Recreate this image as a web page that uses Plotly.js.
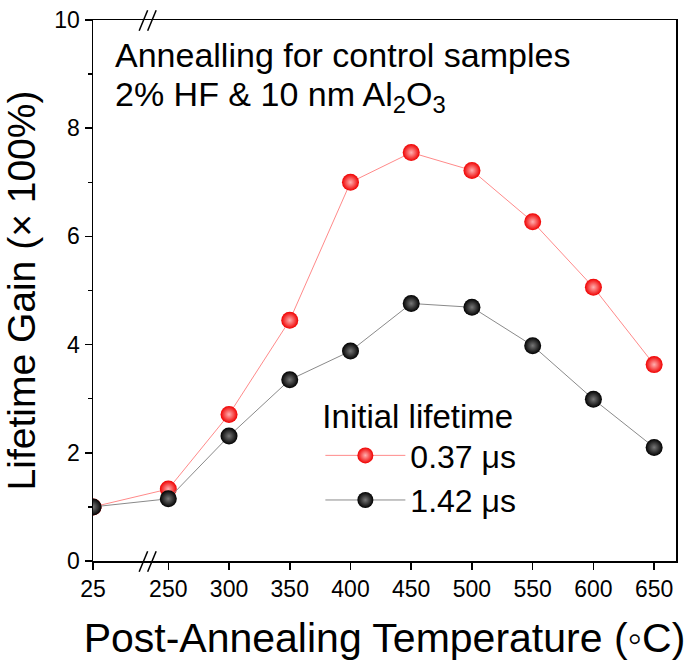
<!DOCTYPE html>
<html>
<head>
<meta charset="utf-8">
<script src="https://cdn.plot.ly/plotly-3.0.1.min.js"></script>
<style>html,body{margin:0;padding:0;background:#fff;}#chart{width:686px;height:669px;}</style>
</head>
<body>
<div id="chart"></div>
<script>
// Data
const temperatures = [25, 250, 300, 350, 400, 450, 500, 550, 600, 650];
const tickLabels = ['25', '250', '300', '350', '400', '450', '500', '550', '600', '650'];
const gain037 = [1.0, 1.33, 2.71, 4.45, 7.0, 7.55, 7.22, 6.27, 5.06, 3.63];
const gain142 = [1.0, 1.15, 2.31, 3.35, 3.88, 4.76, 4.69, 3.98, 2.99, 2.1];
const seriesNames = ['0.37 \u03bcs', '1.42 \u03bcs'];

// Broken axis: 25 °C is drawn just left of the break
const BREAK_POS = 188;
const axisPos = t => (t >= 250 ? t : BREAK_POS);
const xPos = temperatures.map(axisPos);

const FONT = 'Liberation Sans, Arial, sans-serif';

const traces = [
  {
    x: xPos, y: gain037, name: seriesNames[0], type: 'scatter', mode: 'lines+markers',
    line: {color: '#ff8a8a', width: 1},
    marker: {size: 17, color: '#f00000', gradient: {type: 'radial', color: '#ffb0b0'}, line: {width: 0}}
  },
  {
    x: xPos, y: gain142, name: seriesNames[1], type: 'scatter', mode: 'lines+markers',
    line: {color: '#8a8a8a', width: 1},
    marker: {size: 17, color: '#000000', gradient: {type: 'radial', color: '#777777'}, line: {width: 0}}
  }
];

function slash(x0, y0) {
  return {type: 'line', xref: 'x', yref: 'paper', x0: x0, x1: x0 + 7, y0: y0 - 0.02, y1: y0 + 0.018,
          line: {color: '#000', width: 1.5}, layer: 'above'};
}

const layout = {
  width: 686, height: 669,
  margin: {l: 93, r: 10, t: 20, b: 108},
  paper_bgcolor: '#fff', plot_bgcolor: '#fff',
  font: {family: FONT, color: '#000'},
  showlegend: true,
  legend: {
    x: 0.39, y: 0.325, xanchor: 'left', yanchor: 'top',
    bgcolor: 'rgba(0,0,0,0)',
    font: {size: 32, family: FONT},
    title: {text: 'Initial lifetime', font: {size: 33, family: FONT}},
    itemwidth: 80, tracegroupgap: 0
  },
  xaxis: {
    range: [BREAK_POS, 668],
    tickmode: 'array', tickvals: xPos, ticktext: tickLabels,
    ticks: 'outside', ticklen: 7, tickwidth: 1.5, tickcolor: '#000',
    showline: true, linecolor: '#000', linewidth: 1.5, mirror: true,
    showgrid: false, zeroline: false,
    tickfont: {size: 23, family: FONT},
    title: {text: 'Post-Annealing Temperature (\u25e6C)', font: {size: 41, family: FONT}, standoff: 22}
  },
  yaxis: {
    range: [0, 10], dtick: 2, tick0: 0,
    ticks: 'outside', ticklen: 7, tickwidth: 1.5, tickcolor: '#000',
    minor: {dtick: 1, ticks: 'outside', ticklen: 4, tickcolor: '#000', tickwidth: 1.5},
    showline: true, linecolor: '#000', linewidth: 1.5, mirror: true,
    showgrid: false, zeroline: false,
    tickfont: {size: 23, family: FONT},
    title: {text: 'Lifetime Gain (\u00d7 100%)', font: {size: 39, family: FONT}, standoff: 6}
  },
  shapes: [slash(226, 0), slash(233, 0), slash(226, 1), slash(233, 1)],
  annotations: [
    {text: 'Annealling for control samples', xref: 'paper', yref: 'paper', x: 0.034, y: 0.935,
     xanchor: 'left', yanchor: 'middle', showarrow: false, font: {size: 34, family: FONT}},
    {text: '2% HF &amp; 10 nm Al<sub>2</sub>O<sub>3</sub>', xref: 'paper', yref: 'paper', x: 0.034, y: 0.858,
     xanchor: 'left', yanchor: 'middle', showarrow: false, font: {size: 34, family: FONT}}
  ]
};

Plotly.newPlot('chart', traces, layout, {displayModeBar: false, staticPlot: true});
</script>
</body>
</html>
